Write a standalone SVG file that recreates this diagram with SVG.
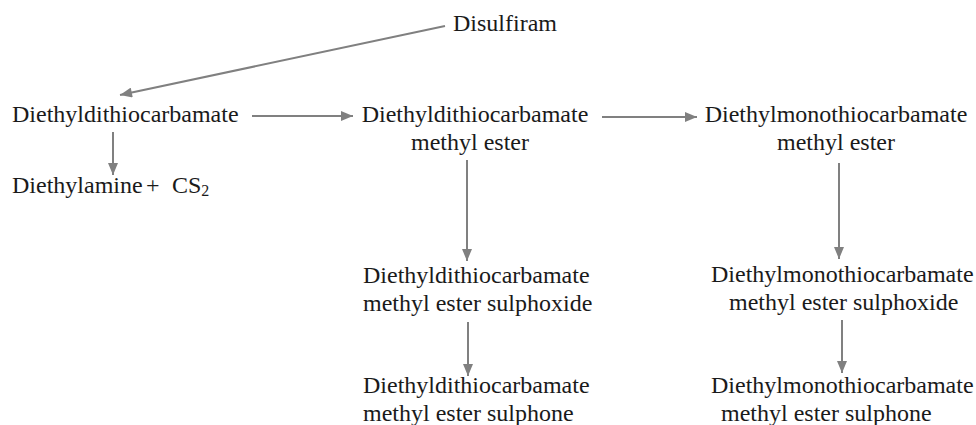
<svg xmlns="http://www.w3.org/2000/svg" width="976" height="425" viewBox="0 0 976 425">
<style>
text{font-family:"Liberation Serif","Times New Roman",serif;font-size:24px;fill:#1a1a1a}
.c{text-anchor:middle}
.sub{font-size:16px}
.ln{stroke:#808080;stroke-width:2;fill:none;marker-end:url(#ah)}
</style>
<defs>
<marker id="ah" viewBox="0 0 12 10" refX="12" refY="5" markerWidth="13" markerHeight="10" markerUnits="userSpaceOnUse" orient="auto">
<path d="M0,0 L12,5 L0,10 Z" fill="#808080"/>
</marker>
</defs>
<rect width="976" height="425" fill="#ffffff"/>
<g id="disulfiram"><text x="453" y="31">Disulfiram</text></g>
<g id="ddc"><text x="12" y="122">Diethyldithiocarbamate</text></g>
<g id="diethylamine"><text x="12" y="193">Diethylamine</text><text x="146" y="193">+</text><text x="172" y="193">CS<tspan class="sub" dy="3">2</tspan></text></g>
<g id="ddcme"><text class="c" x="475" y="122">Diethyldithiocarbamate</text><text class="c" x="470" y="150">methyl ester</text></g>
<g id="dmtcme"><text class="c" x="836" y="122">Diethylmonothiocarbamate</text><text class="c" x="836" y="150">methyl ester</text></g>
<g id="ddcme-sulphoxide"><text x="363" y="283">Diethyldithiocarbamate</text><text x="363" y="311">methyl ester sulphoxide</text></g>
<g id="ddcme-sulphone"><text x="363" y="393">Diethyldithiocarbamate</text><text x="363" y="421">methyl ester sulphone</text></g>
<g id="dmtcme-sulphoxide"><text x="711" y="282">Diethylmonothiocarbamate</text><text x="729" y="310">methyl ester sulphoxide</text></g>
<g id="dmtcme-sulphone"><text x="711" y="393">Diethylmonothiocarbamate</text><text x="721" y="421">methyl ester sulphone</text></g>
<g id="connectors">
<line class="ln" x1="445" y1="26" x2="120" y2="95"/>
<line class="ln" x1="252" y1="116" x2="353" y2="116"/>
<line class="ln" x1="113" y1="132" x2="113" y2="175"/>
<line class="ln" x1="602" y1="117" x2="697" y2="117"/>
<line class="ln" x1="467" y1="160" x2="467" y2="261"/>
<line class="ln" x1="839" y1="163" x2="839" y2="259"/>
<line class="ln" x1="468" y1="322" x2="468" y2="376"/>
<line class="ln" x1="842" y1="320" x2="842" y2="373"/>
</g>
</svg>
